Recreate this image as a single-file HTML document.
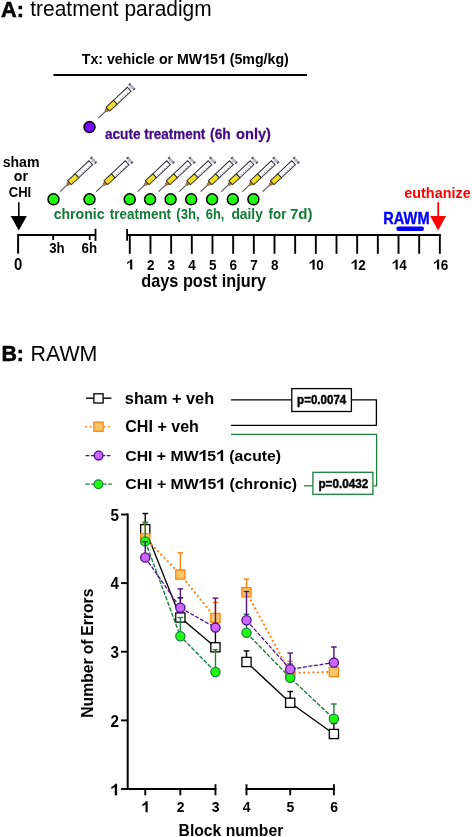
<!DOCTYPE html>
<html><head><meta charset="utf-8"><style>
html,body{margin:0;padding:0;background:#fff;}
body{width:472px;height:837px;overflow:hidden;}
svg{display:block;font-family:"Liberation Sans", sans-serif;will-change:transform;}
</style></head><body>
<svg width="472" height="837" viewBox="0 0 472 837">
<rect width="472" height="837" fill="#fff"/>
<text transform="translate(1.06,16.60) scale(1.0000,1.0)" font-size="21.76" font-weight="bold" fill="#000" stroke="#000" stroke-width="0.5">A:</text>
<text transform="translate(30.29,16.30) scale(1.0000,1.02)" font-size="20.92" font-weight="normal" fill="#000" >treatment paradigm</text>
<text transform="translate(81.76,64.30) scale(1.0000,1.03)" font-size="14.17" font-weight="bold" fill="#000"  xml:space="preserve">Tx: vehicle or MW<tspan dx="7.881">5</tspan><tspan dx="7.881"> (5mg/kg)</tspan></text><path transform="translate(202.26,64.30) scale(14.174,-14.599)" d="M0.282 0 L0.438 0 L0.438 0.716 L0.312 0.716 C0.286 0.652 0.200 0.575 0.058 0.518 L0.058 0.392 C0.146 0.424 0.228 0.472 0.282 0.528 Z" fill="#000"/><path transform="translate(218.03,64.30) scale(14.174,-14.599)" d="M0.282 0 L0.438 0 L0.438 0.716 L0.312 0.716 C0.286 0.652 0.200 0.575 0.058 0.518 L0.058 0.392 C0.146 0.424 0.228 0.472 0.282 0.528 Z" fill="#000"/>
<line x1="53.5" y1="75" x2="307" y2="75" stroke="#000" stroke-width="2"/>
<g transform="translate(98.4,118.1) rotate(-43.1)"><line x1="0" y1="0" x2="10.5" y2="0" stroke="#4a4a4a" stroke-width="1"/><path d="M10 -0.9 L13 -1.8 L13 1.8 L10 0.9 Z" fill="#b87838" stroke="#6a4a2a" stroke-width="0.6"/><rect x="13" y="-2.7" width="10.3" height="5.4" fill="#f3e22a" stroke="#26262e" stroke-width="0.95"/><rect x="23.3" y="-2.7" width="18.9" height="5.4" fill="#fff" stroke="#26262e" stroke-width="0.95"/><line x1="15.5" y1="0.6" x2="15.5" y2="2.2" stroke="#b8a020" stroke-width="0.7"/><line x1="18.5" y1="0.6" x2="18.5" y2="2.2" stroke="#b8a020" stroke-width="0.7"/><line x1="21.5" y1="0.6" x2="21.5" y2="2.2" stroke="#b8a020" stroke-width="0.7"/><line x1="26.3" y1="0.3" x2="26.3" y2="2.4" stroke="#80808e" stroke-width="0.75"/><line x1="29.3" y1="0.3" x2="29.3" y2="2.4" stroke="#80808e" stroke-width="0.75"/><line x1="32.3" y1="0.3" x2="32.3" y2="2.4" stroke="#80808e" stroke-width="0.75"/><line x1="35.3" y1="0.3" x2="35.3" y2="2.4" stroke="#80808e" stroke-width="0.75"/><line x1="38.3" y1="0.3" x2="38.3" y2="2.4" stroke="#80808e" stroke-width="0.75"/><rect x="42.7" y="-1.1" width="2" height="2.2" fill="#d4d4dc"/><rect x="44.6" y="-3.9" width="2.5" height="7.8" fill="#b4b4c0"/><rect x="44.6" y="-3.9" width="2.5" height="1.3" fill="#4a4a55"/><rect x="44.6" y="2.6" width="2.5" height="1.3" fill="#4a4a55"/></g>
<circle cx="89.5" cy="127.1" r="5.5" fill="#8000ff" stroke="#000" stroke-width="1.5"/>
<text transform="translate(104.93,139.00) scale(0.9812,1.02)" font-size="13.90" font-weight="bold" fill="#420a85" stroke="#420a85" stroke-width="0.25">acute</text>
<text transform="translate(144.17,139.00) scale(0.9659,1.02)" font-size="13.90" font-weight="bold" fill="#420a85" stroke="#420a85" stroke-width="0.25">treatment</text>
<text transform="translate(210.05,139.00) scale(0.9924,1.02)" font-size="13.90" font-weight="bold" fill="#420a85" stroke="#420a85" stroke-width="0.25">(6h</text>
<text transform="translate(236.06,139.00) scale(1.0501,1.02)" font-size="13.90" font-weight="bold" fill="#420a85" stroke="#420a85" stroke-width="0.25">only)</text>
<text transform="translate(2.63,166.60) scale(1.0000,1.03)" font-size="14.09" font-weight="bold" fill="#000" >sham</text>
<text transform="translate(13.77,181.00) scale(1.0000,1.0)" font-size="14.26" font-weight="bold" fill="#000" >or</text>
<text transform="translate(8.83,196.60) scale(1.0000,1.14)" font-size="13.02" font-weight="bold" fill="#000" >CHI</text>
<line x1="18.8" y1="202.3" x2="18.8" y2="217" stroke="#000" stroke-width="1.6"/>
<path d="M10.7 216 L26.9 216 L18.8 230.5 Z" fill="#000"/>
<g transform="translate(60.0,191.6) rotate(-43.1)"><line x1="0" y1="0" x2="10.5" y2="0" stroke="#4a4a4a" stroke-width="1"/><path d="M10 -0.9 L13 -1.8 L13 1.8 L10 0.9 Z" fill="#b87838" stroke="#6a4a2a" stroke-width="0.6"/><rect x="13" y="-2.7" width="10.3" height="5.4" fill="#f3e22a" stroke="#26262e" stroke-width="0.95"/><rect x="23.3" y="-2.7" width="18.9" height="5.4" fill="#fff" stroke="#26262e" stroke-width="0.95"/><line x1="15.5" y1="0.6" x2="15.5" y2="2.2" stroke="#b8a020" stroke-width="0.7"/><line x1="18.5" y1="0.6" x2="18.5" y2="2.2" stroke="#b8a020" stroke-width="0.7"/><line x1="21.5" y1="0.6" x2="21.5" y2="2.2" stroke="#b8a020" stroke-width="0.7"/><line x1="26.3" y1="0.3" x2="26.3" y2="2.4" stroke="#80808e" stroke-width="0.75"/><line x1="29.3" y1="0.3" x2="29.3" y2="2.4" stroke="#80808e" stroke-width="0.75"/><line x1="32.3" y1="0.3" x2="32.3" y2="2.4" stroke="#80808e" stroke-width="0.75"/><line x1="35.3" y1="0.3" x2="35.3" y2="2.4" stroke="#80808e" stroke-width="0.75"/><line x1="38.3" y1="0.3" x2="38.3" y2="2.4" stroke="#80808e" stroke-width="0.75"/><rect x="42.7" y="-1.1" width="2" height="2.2" fill="#d4d4dc"/><rect x="44.6" y="-3.9" width="2.5" height="7.8" fill="#b4b4c0"/><rect x="44.6" y="-3.9" width="2.5" height="1.3" fill="#4a4a55"/><rect x="44.6" y="2.6" width="2.5" height="1.3" fill="#4a4a55"/></g>
<g transform="translate(96.3,191.6) rotate(-43.1)"><line x1="0" y1="0" x2="10.5" y2="0" stroke="#4a4a4a" stroke-width="1"/><path d="M10 -0.9 L13 -1.8 L13 1.8 L10 0.9 Z" fill="#b87838" stroke="#6a4a2a" stroke-width="0.6"/><rect x="13" y="-2.7" width="10.3" height="5.4" fill="#f3e22a" stroke="#26262e" stroke-width="0.95"/><rect x="23.3" y="-2.7" width="18.9" height="5.4" fill="#fff" stroke="#26262e" stroke-width="0.95"/><line x1="15.5" y1="0.6" x2="15.5" y2="2.2" stroke="#b8a020" stroke-width="0.7"/><line x1="18.5" y1="0.6" x2="18.5" y2="2.2" stroke="#b8a020" stroke-width="0.7"/><line x1="21.5" y1="0.6" x2="21.5" y2="2.2" stroke="#b8a020" stroke-width="0.7"/><line x1="26.3" y1="0.3" x2="26.3" y2="2.4" stroke="#80808e" stroke-width="0.75"/><line x1="29.3" y1="0.3" x2="29.3" y2="2.4" stroke="#80808e" stroke-width="0.75"/><line x1="32.3" y1="0.3" x2="32.3" y2="2.4" stroke="#80808e" stroke-width="0.75"/><line x1="35.3" y1="0.3" x2="35.3" y2="2.4" stroke="#80808e" stroke-width="0.75"/><line x1="38.3" y1="0.3" x2="38.3" y2="2.4" stroke="#80808e" stroke-width="0.75"/><rect x="42.7" y="-1.1" width="2" height="2.2" fill="#d4d4dc"/><rect x="44.6" y="-3.9" width="2.5" height="7.8" fill="#b4b4c0"/><rect x="44.6" y="-3.9" width="2.5" height="1.3" fill="#4a4a55"/><rect x="44.6" y="2.6" width="2.5" height="1.3" fill="#4a4a55"/></g>
<g transform="translate(137.7,191.6) rotate(-43.1)"><line x1="0" y1="0" x2="10.5" y2="0" stroke="#4a4a4a" stroke-width="1"/><path d="M10 -0.9 L13 -1.8 L13 1.8 L10 0.9 Z" fill="#b87838" stroke="#6a4a2a" stroke-width="0.6"/><rect x="13" y="-2.7" width="10.3" height="5.4" fill="#f3e22a" stroke="#26262e" stroke-width="0.95"/><rect x="23.3" y="-2.7" width="18.9" height="5.4" fill="#fff" stroke="#26262e" stroke-width="0.95"/><line x1="15.5" y1="0.6" x2="15.5" y2="2.2" stroke="#b8a020" stroke-width="0.7"/><line x1="18.5" y1="0.6" x2="18.5" y2="2.2" stroke="#b8a020" stroke-width="0.7"/><line x1="21.5" y1="0.6" x2="21.5" y2="2.2" stroke="#b8a020" stroke-width="0.7"/><line x1="26.3" y1="0.3" x2="26.3" y2="2.4" stroke="#80808e" stroke-width="0.75"/><line x1="29.3" y1="0.3" x2="29.3" y2="2.4" stroke="#80808e" stroke-width="0.75"/><line x1="32.3" y1="0.3" x2="32.3" y2="2.4" stroke="#80808e" stroke-width="0.75"/><line x1="35.3" y1="0.3" x2="35.3" y2="2.4" stroke="#80808e" stroke-width="0.75"/><line x1="38.3" y1="0.3" x2="38.3" y2="2.4" stroke="#80808e" stroke-width="0.75"/><rect x="42.7" y="-1.1" width="2" height="2.2" fill="#d4d4dc"/><rect x="44.6" y="-3.9" width="2.5" height="7.8" fill="#b4b4c0"/><rect x="44.6" y="-3.9" width="2.5" height="1.3" fill="#4a4a55"/><rect x="44.6" y="2.6" width="2.5" height="1.3" fill="#4a4a55"/></g>
<g transform="translate(158.6,191.6) rotate(-43.1)"><line x1="0" y1="0" x2="10.5" y2="0" stroke="#4a4a4a" stroke-width="1"/><path d="M10 -0.9 L13 -1.8 L13 1.8 L10 0.9 Z" fill="#b87838" stroke="#6a4a2a" stroke-width="0.6"/><rect x="13" y="-2.7" width="10.3" height="5.4" fill="#f3e22a" stroke="#26262e" stroke-width="0.95"/><rect x="23.3" y="-2.7" width="18.9" height="5.4" fill="#fff" stroke="#26262e" stroke-width="0.95"/><line x1="15.5" y1="0.6" x2="15.5" y2="2.2" stroke="#b8a020" stroke-width="0.7"/><line x1="18.5" y1="0.6" x2="18.5" y2="2.2" stroke="#b8a020" stroke-width="0.7"/><line x1="21.5" y1="0.6" x2="21.5" y2="2.2" stroke="#b8a020" stroke-width="0.7"/><line x1="26.3" y1="0.3" x2="26.3" y2="2.4" stroke="#80808e" stroke-width="0.75"/><line x1="29.3" y1="0.3" x2="29.3" y2="2.4" stroke="#80808e" stroke-width="0.75"/><line x1="32.3" y1="0.3" x2="32.3" y2="2.4" stroke="#80808e" stroke-width="0.75"/><line x1="35.3" y1="0.3" x2="35.3" y2="2.4" stroke="#80808e" stroke-width="0.75"/><line x1="38.3" y1="0.3" x2="38.3" y2="2.4" stroke="#80808e" stroke-width="0.75"/><rect x="42.7" y="-1.1" width="2" height="2.2" fill="#d4d4dc"/><rect x="44.6" y="-3.9" width="2.5" height="7.8" fill="#b4b4c0"/><rect x="44.6" y="-3.9" width="2.5" height="1.3" fill="#4a4a55"/><rect x="44.6" y="2.6" width="2.5" height="1.3" fill="#4a4a55"/></g>
<g transform="translate(179.2,191.6) rotate(-43.1)"><line x1="0" y1="0" x2="10.5" y2="0" stroke="#4a4a4a" stroke-width="1"/><path d="M10 -0.9 L13 -1.8 L13 1.8 L10 0.9 Z" fill="#b87838" stroke="#6a4a2a" stroke-width="0.6"/><rect x="13" y="-2.7" width="10.3" height="5.4" fill="#f3e22a" stroke="#26262e" stroke-width="0.95"/><rect x="23.3" y="-2.7" width="18.9" height="5.4" fill="#fff" stroke="#26262e" stroke-width="0.95"/><line x1="15.5" y1="0.6" x2="15.5" y2="2.2" stroke="#b8a020" stroke-width="0.7"/><line x1="18.5" y1="0.6" x2="18.5" y2="2.2" stroke="#b8a020" stroke-width="0.7"/><line x1="21.5" y1="0.6" x2="21.5" y2="2.2" stroke="#b8a020" stroke-width="0.7"/><line x1="26.3" y1="0.3" x2="26.3" y2="2.4" stroke="#80808e" stroke-width="0.75"/><line x1="29.3" y1="0.3" x2="29.3" y2="2.4" stroke="#80808e" stroke-width="0.75"/><line x1="32.3" y1="0.3" x2="32.3" y2="2.4" stroke="#80808e" stroke-width="0.75"/><line x1="35.3" y1="0.3" x2="35.3" y2="2.4" stroke="#80808e" stroke-width="0.75"/><line x1="38.3" y1="0.3" x2="38.3" y2="2.4" stroke="#80808e" stroke-width="0.75"/><rect x="42.7" y="-1.1" width="2" height="2.2" fill="#d4d4dc"/><rect x="44.6" y="-3.9" width="2.5" height="7.8" fill="#b4b4c0"/><rect x="44.6" y="-3.9" width="2.5" height="1.3" fill="#4a4a55"/><rect x="44.6" y="2.6" width="2.5" height="1.3" fill="#4a4a55"/></g>
<g transform="translate(200.6,191.6) rotate(-43.1)"><line x1="0" y1="0" x2="10.5" y2="0" stroke="#4a4a4a" stroke-width="1"/><path d="M10 -0.9 L13 -1.8 L13 1.8 L10 0.9 Z" fill="#b87838" stroke="#6a4a2a" stroke-width="0.6"/><rect x="13" y="-2.7" width="10.3" height="5.4" fill="#f3e22a" stroke="#26262e" stroke-width="0.95"/><rect x="23.3" y="-2.7" width="18.9" height="5.4" fill="#fff" stroke="#26262e" stroke-width="0.95"/><line x1="15.5" y1="0.6" x2="15.5" y2="2.2" stroke="#b8a020" stroke-width="0.7"/><line x1="18.5" y1="0.6" x2="18.5" y2="2.2" stroke="#b8a020" stroke-width="0.7"/><line x1="21.5" y1="0.6" x2="21.5" y2="2.2" stroke="#b8a020" stroke-width="0.7"/><line x1="26.3" y1="0.3" x2="26.3" y2="2.4" stroke="#80808e" stroke-width="0.75"/><line x1="29.3" y1="0.3" x2="29.3" y2="2.4" stroke="#80808e" stroke-width="0.75"/><line x1="32.3" y1="0.3" x2="32.3" y2="2.4" stroke="#80808e" stroke-width="0.75"/><line x1="35.3" y1="0.3" x2="35.3" y2="2.4" stroke="#80808e" stroke-width="0.75"/><line x1="38.3" y1="0.3" x2="38.3" y2="2.4" stroke="#80808e" stroke-width="0.75"/><rect x="42.7" y="-1.1" width="2" height="2.2" fill="#d4d4dc"/><rect x="44.6" y="-3.9" width="2.5" height="7.8" fill="#b4b4c0"/><rect x="44.6" y="-3.9" width="2.5" height="1.3" fill="#4a4a55"/><rect x="44.6" y="2.6" width="2.5" height="1.3" fill="#4a4a55"/></g>
<g transform="translate(221.2,191.6) rotate(-43.1)"><line x1="0" y1="0" x2="10.5" y2="0" stroke="#4a4a4a" stroke-width="1"/><path d="M10 -0.9 L13 -1.8 L13 1.8 L10 0.9 Z" fill="#b87838" stroke="#6a4a2a" stroke-width="0.6"/><rect x="13" y="-2.7" width="10.3" height="5.4" fill="#f3e22a" stroke="#26262e" stroke-width="0.95"/><rect x="23.3" y="-2.7" width="18.9" height="5.4" fill="#fff" stroke="#26262e" stroke-width="0.95"/><line x1="15.5" y1="0.6" x2="15.5" y2="2.2" stroke="#b8a020" stroke-width="0.7"/><line x1="18.5" y1="0.6" x2="18.5" y2="2.2" stroke="#b8a020" stroke-width="0.7"/><line x1="21.5" y1="0.6" x2="21.5" y2="2.2" stroke="#b8a020" stroke-width="0.7"/><line x1="26.3" y1="0.3" x2="26.3" y2="2.4" stroke="#80808e" stroke-width="0.75"/><line x1="29.3" y1="0.3" x2="29.3" y2="2.4" stroke="#80808e" stroke-width="0.75"/><line x1="32.3" y1="0.3" x2="32.3" y2="2.4" stroke="#80808e" stroke-width="0.75"/><line x1="35.3" y1="0.3" x2="35.3" y2="2.4" stroke="#80808e" stroke-width="0.75"/><line x1="38.3" y1="0.3" x2="38.3" y2="2.4" stroke="#80808e" stroke-width="0.75"/><rect x="42.7" y="-1.1" width="2" height="2.2" fill="#d4d4dc"/><rect x="44.6" y="-3.9" width="2.5" height="7.8" fill="#b4b4c0"/><rect x="44.6" y="-3.9" width="2.5" height="1.3" fill="#4a4a55"/><rect x="44.6" y="2.6" width="2.5" height="1.3" fill="#4a4a55"/></g>
<g transform="translate(242.4,191.6) rotate(-43.1)"><line x1="0" y1="0" x2="10.5" y2="0" stroke="#4a4a4a" stroke-width="1"/><path d="M10 -0.9 L13 -1.8 L13 1.8 L10 0.9 Z" fill="#b87838" stroke="#6a4a2a" stroke-width="0.6"/><rect x="13" y="-2.7" width="10.3" height="5.4" fill="#f3e22a" stroke="#26262e" stroke-width="0.95"/><rect x="23.3" y="-2.7" width="18.9" height="5.4" fill="#fff" stroke="#26262e" stroke-width="0.95"/><line x1="15.5" y1="0.6" x2="15.5" y2="2.2" stroke="#b8a020" stroke-width="0.7"/><line x1="18.5" y1="0.6" x2="18.5" y2="2.2" stroke="#b8a020" stroke-width="0.7"/><line x1="21.5" y1="0.6" x2="21.5" y2="2.2" stroke="#b8a020" stroke-width="0.7"/><line x1="26.3" y1="0.3" x2="26.3" y2="2.4" stroke="#80808e" stroke-width="0.75"/><line x1="29.3" y1="0.3" x2="29.3" y2="2.4" stroke="#80808e" stroke-width="0.75"/><line x1="32.3" y1="0.3" x2="32.3" y2="2.4" stroke="#80808e" stroke-width="0.75"/><line x1="35.3" y1="0.3" x2="35.3" y2="2.4" stroke="#80808e" stroke-width="0.75"/><line x1="38.3" y1="0.3" x2="38.3" y2="2.4" stroke="#80808e" stroke-width="0.75"/><rect x="42.7" y="-1.1" width="2" height="2.2" fill="#d4d4dc"/><rect x="44.6" y="-3.9" width="2.5" height="7.8" fill="#b4b4c0"/><rect x="44.6" y="-3.9" width="2.5" height="1.3" fill="#4a4a55"/><rect x="44.6" y="2.6" width="2.5" height="1.3" fill="#4a4a55"/></g>
<g transform="translate(262.7,191.6) rotate(-43.1)"><line x1="0" y1="0" x2="10.5" y2="0" stroke="#4a4a4a" stroke-width="1"/><path d="M10 -0.9 L13 -1.8 L13 1.8 L10 0.9 Z" fill="#b87838" stroke="#6a4a2a" stroke-width="0.6"/><rect x="13" y="-2.7" width="10.3" height="5.4" fill="#f3e22a" stroke="#26262e" stroke-width="0.95"/><rect x="23.3" y="-2.7" width="18.9" height="5.4" fill="#fff" stroke="#26262e" stroke-width="0.95"/><line x1="15.5" y1="0.6" x2="15.5" y2="2.2" stroke="#b8a020" stroke-width="0.7"/><line x1="18.5" y1="0.6" x2="18.5" y2="2.2" stroke="#b8a020" stroke-width="0.7"/><line x1="21.5" y1="0.6" x2="21.5" y2="2.2" stroke="#b8a020" stroke-width="0.7"/><line x1="26.3" y1="0.3" x2="26.3" y2="2.4" stroke="#80808e" stroke-width="0.75"/><line x1="29.3" y1="0.3" x2="29.3" y2="2.4" stroke="#80808e" stroke-width="0.75"/><line x1="32.3" y1="0.3" x2="32.3" y2="2.4" stroke="#80808e" stroke-width="0.75"/><line x1="35.3" y1="0.3" x2="35.3" y2="2.4" stroke="#80808e" stroke-width="0.75"/><line x1="38.3" y1="0.3" x2="38.3" y2="2.4" stroke="#80808e" stroke-width="0.75"/><rect x="42.7" y="-1.1" width="2" height="2.2" fill="#d4d4dc"/><rect x="44.6" y="-3.9" width="2.5" height="7.8" fill="#b4b4c0"/><rect x="44.6" y="-3.9" width="2.5" height="1.3" fill="#4a4a55"/><rect x="44.6" y="2.6" width="2.5" height="1.3" fill="#4a4a55"/></g>
<circle cx="53.5" cy="199.3" r="5.5" fill="#1eff0e" stroke="#000" stroke-width="1.5"/>
<circle cx="89.5" cy="199.3" r="5.5" fill="#1eff0e" stroke="#000" stroke-width="1.5"/>
<circle cx="129.7" cy="199.3" r="5.5" fill="#1eff0e" stroke="#000" stroke-width="1.5"/>
<circle cx="150.1" cy="199.3" r="5.5" fill="#1eff0e" stroke="#000" stroke-width="1.5"/>
<circle cx="170.6" cy="199.3" r="5.5" fill="#1eff0e" stroke="#000" stroke-width="1.5"/>
<circle cx="191.2" cy="199.3" r="5.5" fill="#1eff0e" stroke="#000" stroke-width="1.5"/>
<circle cx="212.1" cy="199.3" r="5.5" fill="#1eff0e" stroke="#000" stroke-width="1.5"/>
<circle cx="232.8" cy="199.3" r="5.5" fill="#1eff0e" stroke="#000" stroke-width="1.5"/>
<circle cx="253.4" cy="199.3" r="5.5" fill="#1eff0e" stroke="#000" stroke-width="1.5"/>
<text transform="translate(53.68,218.90) scale(0.9993,1.04)" font-size="14.10" font-weight="bold" fill="#127a36" >chronic</text>
<text transform="translate(109.87,218.90) scale(0.9537,1.04)" font-size="14.10" font-weight="bold" fill="#127a36" >treatment</text>
<text transform="translate(176.37,218.90) scale(0.9330,1.04)" font-size="14.10" font-weight="bold" fill="#127a36" >(3h,</text>
<text transform="translate(205.82,218.90) scale(0.9094,1.04)" font-size="14.10" font-weight="bold" fill="#127a36" >6h,</text>
<text transform="translate(231.45,218.90) scale(0.9772,1.04)" font-size="14.10" font-weight="bold" fill="#127a36" >daily</text>
<text transform="translate(268.57,218.90) scale(0.9447,1.04)" font-size="14.10" font-weight="bold" fill="#127a36" >for</text>
<text transform="translate(289.90,218.90) scale(1.0711,1.04)" font-size="14.10" font-weight="bold" fill="#127a36" >7d)</text>
<line x1="18" y1="234.9" x2="96" y2="234.9" stroke="#000" stroke-width="2"/>
<line x1="18.1" y1="234" x2="18.1" y2="253.6" stroke="#000" stroke-width="2"/>
<line x1="53.2" y1="234" x2="53.2" y2="240" stroke="#000" stroke-width="1.8"/>
<line x1="89.7" y1="234" x2="89.7" y2="240" stroke="#000" stroke-width="1.8"/>
<line x1="95.5" y1="228.8" x2="95.5" y2="240.9" stroke="#000" stroke-width="1.8"/>
<text transform="translate(13.95,269.80) scale(1.0000,1.05)" font-size="14.90" font-weight="bold" fill="#000" >0</text>
<text transform="translate(49.23,252.70) scale(1.0000,1.1)" font-size="13.26" font-weight="bold" fill="#000" >3h</text>
<text transform="translate(81.50,252.70) scale(1.0000,1.1)" font-size="13.29" font-weight="bold" fill="#000" >6h</text>
<line x1="127.1" y1="228.9" x2="127.1" y2="240.8" stroke="#000" stroke-width="1.8"/>
<line x1="127" y1="235.1" x2="440.75" y2="235.1" stroke="#000" stroke-width="2"/>
<line x1="129.80" y1="234.5" x2="129.80" y2="253.8" stroke="#000" stroke-width="1.9"/>
<line x1="150.47" y1="234.5" x2="150.47" y2="253.8" stroke="#000" stroke-width="1.9"/>
<line x1="171.14" y1="234.5" x2="171.14" y2="253.8" stroke="#000" stroke-width="1.9"/>
<line x1="191.81" y1="234.5" x2="191.81" y2="253.8" stroke="#000" stroke-width="1.9"/>
<line x1="212.48" y1="234.5" x2="212.48" y2="253.8" stroke="#000" stroke-width="1.9"/>
<line x1="233.15" y1="234.5" x2="233.15" y2="253.8" stroke="#000" stroke-width="1.9"/>
<line x1="253.82" y1="234.5" x2="253.82" y2="253.8" stroke="#000" stroke-width="1.9"/>
<line x1="274.49" y1="234.5" x2="274.49" y2="253.8" stroke="#000" stroke-width="1.9"/>
<line x1="295.16" y1="234.5" x2="295.16" y2="253.8" stroke="#000" stroke-width="1.9"/>
<line x1="315.83" y1="234.5" x2="315.83" y2="253.8" stroke="#000" stroke-width="1.9"/>
<line x1="336.50" y1="234.5" x2="336.50" y2="253.8" stroke="#000" stroke-width="1.9"/>
<line x1="357.17" y1="234.5" x2="357.17" y2="253.8" stroke="#000" stroke-width="1.9"/>
<line x1="377.84" y1="234.5" x2="377.84" y2="253.8" stroke="#000" stroke-width="1.9"/>
<line x1="398.51" y1="234.5" x2="398.51" y2="253.8" stroke="#000" stroke-width="1.9"/>
<line x1="419.18" y1="234.5" x2="419.18" y2="253.8" stroke="#000" stroke-width="1.9"/>
<line x1="439.85" y1="234.5" x2="439.85" y2="253.8" stroke="#000" stroke-width="1.9"/>
<path transform="translate(126.35,269.60) scale(13.5,-14.175)" d="M0.282 0 L0.438 0 L0.438 0.716 L0.312 0.716 C0.286 0.652 0.200 0.575 0.058 0.518 L0.058 0.392 C0.146 0.424 0.228 0.472 0.282 0.528 Z" fill="#000"/>
<text transform="translate(146.92,269.60) scale(1,1.05)" font-size="13.5" font-weight="bold" fill="#000">2</text>
<text transform="translate(167.59,269.60) scale(1,1.05)" font-size="13.5" font-weight="bold" fill="#000">3</text>
<text transform="translate(188.26,269.60) scale(1,1.05)" font-size="13.5" font-weight="bold" fill="#000">4</text>
<text transform="translate(208.93,269.60) scale(1,1.05)" font-size="13.5" font-weight="bold" fill="#000">5</text>
<text transform="translate(229.60,269.60) scale(1,1.05)" font-size="13.5" font-weight="bold" fill="#000">6</text>
<text transform="translate(250.27,269.60) scale(1,1.05)" font-size="13.5" font-weight="bold" fill="#000">7</text>
<text transform="translate(270.94,269.60) scale(1,1.05)" font-size="13.5" font-weight="bold" fill="#000">8</text>
<path transform="translate(308.72,269.60) scale(13.5,-14.175)" d="M0.282 0 L0.438 0 L0.438 0.716 L0.312 0.716 C0.286 0.652 0.200 0.575 0.058 0.518 L0.058 0.392 C0.146 0.424 0.228 0.472 0.282 0.528 Z" fill="#000"/>
<text transform="translate(316.23,269.60) scale(1,1.05)" font-size="13.5" font-weight="bold" fill="#000">0</text>
<path transform="translate(350.76,269.60) scale(13.5,-14.175)" d="M0.282 0 L0.438 0 L0.438 0.716 L0.312 0.716 C0.286 0.652 0.200 0.575 0.058 0.518 L0.058 0.392 C0.146 0.424 0.228 0.472 0.282 0.528 Z" fill="#000"/>
<text transform="translate(358.27,269.60) scale(1,1.05)" font-size="13.5" font-weight="bold" fill="#000">2</text>
<path transform="translate(391.80,269.60) scale(13.5,-14.175)" d="M0.282 0 L0.438 0 L0.438 0.716 L0.312 0.716 C0.286 0.652 0.200 0.575 0.058 0.518 L0.058 0.392 C0.146 0.424 0.228 0.472 0.282 0.528 Z" fill="#000"/>
<text transform="translate(399.31,269.60) scale(1,1.05)" font-size="13.5" font-weight="bold" fill="#000">4</text>
<path transform="translate(433.24,269.60) scale(13.5,-14.175)" d="M0.282 0 L0.438 0 L0.438 0.716 L0.312 0.716 C0.286 0.652 0.200 0.575 0.058 0.518 L0.058 0.392 C0.146 0.424 0.228 0.472 0.282 0.528 Z" fill="#000"/>
<text transform="translate(440.75,269.60) scale(1,1.05)" font-size="13.5" font-weight="bold" fill="#000">6</text>
<text transform="translate(141.35,286.60) scale(1.0000,1.1)" font-size="16.27" font-weight="bold" fill="#000" >days post injury</text>
<text transform="translate(383.32,223.60) scale(1.0000,1.12)" font-size="14.62" font-weight="bold" fill="#0000ff" stroke="#0000ff" stroke-width="0.3">RAWM</text>
<line x1="398.5" y1="228.7" x2="421.8" y2="228.7" stroke="#0000ff" stroke-width="4.4" stroke-linecap="round"/>
<text transform="translate(404.17,198.40) scale(1.0000,0.97)" font-size="14.44" font-weight="bold" fill="#ff0000" >euthanize</text>
<line x1="438.2" y1="202.2" x2="438.2" y2="217" stroke="#ff0000" stroke-width="1.8"/>
<path d="M430.2 216.1 L446 216.1 L438.1 230.5 Z" fill="#ff0000"/>
<text transform="translate(1.42,360.70) scale(1.0000,1.0)" font-size="21.39" font-weight="bold" fill="#000" stroke="#000" stroke-width="0.5">B:</text>
<text transform="translate(30.49,360.80) scale(1.0000,1.03)" font-size="21.37" font-weight="normal" fill="#000" >RAWM</text>
<line x1="86" y1="398.2" x2="111.4" y2="398.2" stroke="#000" stroke-width="1.4"/>
<rect x="93.9" y="393.8" width="9.2" height="9.2" fill="#fff" stroke="#000" stroke-width="1.3"/>
<line x1="86" y1="426.7" x2="111.4" y2="426.7" stroke="#ff8010" stroke-width="1.8" stroke-dasharray="0 4.6" stroke-linecap="round"/>
<rect x="93.9" y="422.1" width="9.2" height="9.2" fill="#f5c865" stroke="#ff8010" stroke-width="1.3"/>
<line x1="85.5" y1="455.6" x2="111.8" y2="455.6" stroke="#4b0f8c" stroke-width="1.4" stroke-dasharray="3.8 1.5"/>
<circle cx="98.6" cy="455.6" r="4.4" fill="#cc66ff" stroke="#4b0f8c" stroke-width="1.3"/>
<line x1="85.4" y1="484.1" x2="111.8" y2="484.1" stroke="#1e8040" stroke-width="1.4" stroke-dasharray="4.2 1.5"/>
<circle cx="98.4" cy="484.2" r="4.4" fill="#1eff0e" stroke="#1e8040" stroke-width="1.3"/>
<text transform="translate(124.81,403.90) scale(1.0000,0.97)" font-size="16.33" font-weight="bold" fill="#000" >sham + veh</text>
<text transform="translate(125.26,432.00) scale(1.0000,0.98)" font-size="16.08" font-weight="bold" fill="#000" >CHI + veh</text>
<text transform="translate(125.27,461.00) scale(1.0000,0.98)" font-size="15.81" font-weight="bold" fill="#000"  xml:space="preserve">CHI + MW<tspan dx="8.789">5</tspan><tspan dx="8.789"> (acute)</tspan></text><path transform="translate(198.59,461.00) scale(15.807,-15.491)" d="M0.282 0 L0.438 0 L0.438 0.716 L0.312 0.716 C0.286 0.652 0.200 0.575 0.058 0.518 L0.058 0.392 C0.146 0.424 0.228 0.472 0.282 0.528 Z" fill="#000"/><path transform="translate(216.18,461.00) scale(15.807,-15.491)" d="M0.282 0 L0.438 0 L0.438 0.716 L0.312 0.716 C0.286 0.652 0.200 0.575 0.058 0.518 L0.058 0.392 C0.146 0.424 0.228 0.472 0.282 0.528 Z" fill="#000"/>
<text transform="translate(125.27,489.30) scale(1.0000,0.98)" font-size="15.82" font-weight="bold" fill="#000"  xml:space="preserve">CHI + MW<tspan dx="8.794">5</tspan><tspan dx="8.794"> (chronic)</tspan></text><path transform="translate(198.64,489.30) scale(15.817,-15.500)" d="M0.282 0 L0.438 0 L0.438 0.716 L0.312 0.716 C0.286 0.652 0.200 0.575 0.058 0.518 L0.058 0.392 C0.146 0.424 0.228 0.472 0.282 0.528 Z" fill="#000"/><path transform="translate(216.23,489.30) scale(15.817,-15.500)" d="M0.282 0 L0.438 0 L0.438 0.716 L0.312 0.716 C0.286 0.652 0.200 0.575 0.058 0.518 L0.058 0.392 C0.146 0.424 0.228 0.472 0.282 0.528 Z" fill="#000"/>
<polyline points="230.9,399.9 291.5,399.9" stroke="#000" stroke-width="1.3" fill="none"/>
<polyline points="351.6,399.9 376.4,399.9 376.4,425.3 230.9,425.3" stroke="#000" stroke-width="1.3" fill="none"/>
<rect x="291.8" y="388.6" width="59.6" height="22.9" fill="#fff" stroke="#000" stroke-width="1.3"/>
<text transform="translate(297.11,403.60) scale(1.0000,1.12)" font-size="11.56" font-weight="bold" fill="#000" stroke="#000" stroke-width="0.4">p=0.0074</text>
<polyline points="230.9,434.3 376.6,434.3 376.6,485.8 373.4,485.8" stroke="#1e8040" stroke-width="1.3" fill="none"/>
<line x1="304" y1="485.8" x2="312.4" y2="485.8" stroke="#1e8040" stroke-width="1.3"/>
<rect x="312.9" y="472.3" width="60" height="22" fill="#fff" stroke="#1e8040" stroke-width="1.3"/>
<text transform="translate(318.40,488.10) scale(1.0000,1.12)" font-size="11.74" font-weight="bold" fill="#000" stroke="#000" stroke-width="0.4">p=0.0432</text>
<line x1="127.7" y1="513.6" x2="127.7" y2="790" stroke="#000" stroke-width="2"/>
<line x1="121" y1="789.00" x2="127.7" y2="789.00" stroke="#000" stroke-width="1.9"/>
<path transform="translate(110.45,795.30) scale(15.2,-16.112)" d="M0.282 0 L0.438 0 L0.438 0.716 L0.312 0.716 C0.286 0.652 0.200 0.575 0.058 0.518 L0.058 0.392 C0.146 0.424 0.228 0.472 0.282 0.528 Z" fill="#000"/>
<line x1="121" y1="720.38" x2="127.7" y2="720.38" stroke="#000" stroke-width="1.9"/>
<text transform="translate(110.45,726.67) scale(1,1.06)" font-size="15.2" font-weight="bold" fill="#000">2</text>
<line x1="121" y1="651.75" x2="127.7" y2="651.75" stroke="#000" stroke-width="1.9"/>
<text transform="translate(110.45,658.05) scale(1,1.06)" font-size="15.2" font-weight="bold" fill="#000">3</text>
<line x1="121" y1="583.12" x2="127.7" y2="583.12" stroke="#000" stroke-width="1.9"/>
<text transform="translate(110.45,589.42) scale(1,1.06)" font-size="15.2" font-weight="bold" fill="#000">4</text>
<line x1="121" y1="514.50" x2="127.7" y2="514.50" stroke="#000" stroke-width="1.9"/>
<text transform="translate(110.45,520.80) scale(1,1.06)" font-size="15.2" font-weight="bold" fill="#000">5</text>
<line x1="126.7" y1="789" x2="216.35" y2="789" stroke="#000" stroke-width="2"/>
<line x1="245.6" y1="789" x2="334.79999999999995" y2="789" stroke="#000" stroke-width="2"/>
<line x1="145.25" y1="789" x2="145.25" y2="795.3" stroke="#000" stroke-width="1.9"/>
<line x1="180.35" y1="789" x2="180.35" y2="795.3" stroke="#000" stroke-width="1.9"/>
<line x1="290.20" y1="789" x2="290.20" y2="795.3" stroke="#000" stroke-width="1.9"/>
<line x1="215.45" y1="784.2" x2="215.45" y2="795.3" stroke="#000" stroke-width="1.9"/>
<line x1="246.50" y1="784.2" x2="246.50" y2="795.3" stroke="#000" stroke-width="1.9"/>
<line x1="333.90" y1="784.2" x2="333.90" y2="795.3" stroke="#000" stroke-width="1.9"/>
<path transform="translate(141.56,812.20) scale(14,-15.120)" d="M0.282 0 L0.438 0 L0.438 0.716 L0.312 0.716 C0.286 0.652 0.200 0.575 0.058 0.518 L0.058 0.392 C0.146 0.424 0.228 0.472 0.282 0.528 Z" fill="#000"/>
<text transform="translate(176.66,812.20) scale(1,1.08)" font-size="14" font-weight="bold" fill="#000">2</text>
<text transform="translate(211.76,812.20) scale(1,1.08)" font-size="14" font-weight="bold" fill="#000">3</text>
<text transform="translate(242.81,812.20) scale(1,1.08)" font-size="14" font-weight="bold" fill="#000">4</text>
<text transform="translate(286.51,812.20) scale(1,1.08)" font-size="14" font-weight="bold" fill="#000">5</text>
<text transform="translate(330.21,812.20) scale(1,1.08)" font-size="14" font-weight="bold" fill="#000">6</text>
<text transform="translate(92.8,717.85) rotate(-90) scale(1.0014,1.0)" font-size="15.75" font-weight="bold">Number</text>
<text transform="translate(92.8,654.17) rotate(-90) scale(0.9860,1.0)" font-size="15.75" font-weight="bold">of</text>
<text transform="translate(92.8,635.64) rotate(-90) scale(0.9965,1.0)" font-size="15.75" font-weight="bold">Errors</text>
<text transform="translate(178.56,835.70) scale(1.0000,1.04)" font-size="15.71" font-weight="bold" fill="#000" >Block number</text>
<polyline points="145.25,529.2 180.35,617.5 215.45,647.3" fill="none" stroke="#000" stroke-width="1.3" /><polyline points="246.50,662 290.20,702.8 333.90,734" fill="none" stroke="#000" stroke-width="1.3" /><line x1="145.25" y1="529.2" x2="145.25" y2="513.5" stroke="#000" stroke-width="1.4"/><line x1="142.45" y1="513.5" x2="148.05" y2="513.5" stroke="#000" stroke-width="1.4"/><line x1="180.35" y1="617.5" x2="180.35" y2="597.8" stroke="#000" stroke-width="1.4"/><line x1="177.55" y1="597.8" x2="183.15" y2="597.8" stroke="#000" stroke-width="1.4"/><line x1="215.45" y1="647.3" x2="215.45" y2="630.5" stroke="#000" stroke-width="1.4"/><line x1="212.65" y1="630.5" x2="218.25" y2="630.5" stroke="#000" stroke-width="1.4"/><line x1="246.50" y1="662" x2="246.50" y2="650.9" stroke="#000" stroke-width="1.4"/><line x1="243.70" y1="650.9" x2="249.30" y2="650.9" stroke="#000" stroke-width="1.4"/><line x1="290.20" y1="702.8" x2="290.20" y2="691.5" stroke="#000" stroke-width="1.4"/><line x1="287.40" y1="691.5" x2="293.00" y2="691.5" stroke="#000" stroke-width="1.4"/><line x1="333.90" y1="734" x2="333.90" y2="723.5" stroke="#000" stroke-width="1.4"/><line x1="331.10" y1="723.5" x2="336.70" y2="723.5" stroke="#000" stroke-width="1.4"/><rect x="140.65" y="524.60" width="9.2" height="9.2" fill="#fff" stroke="#000" stroke-width="1.3"/><rect x="175.75" y="612.90" width="9.2" height="9.2" fill="#fff" stroke="#000" stroke-width="1.3"/><rect x="210.85" y="642.70" width="9.2" height="9.2" fill="#fff" stroke="#000" stroke-width="1.3"/><rect x="241.90" y="657.40" width="9.2" height="9.2" fill="#fff" stroke="#000" stroke-width="1.3"/><rect x="285.60" y="698.20" width="9.2" height="9.2" fill="#fff" stroke="#000" stroke-width="1.3"/><rect x="329.30" y="729.40" width="9.2" height="9.2" fill="#fff" stroke="#000" stroke-width="1.3"/>
<polyline points="145.25,538.2 180.35,574.5 215.45,618" fill="none" stroke="#ff8010" stroke-width="2.3" stroke-dasharray="0 4.6" stroke-linecap="round"/><polyline points="246.50,592.3 290.20,673 333.90,672" fill="none" stroke="#ff8010" stroke-width="2.3" stroke-dasharray="0 4.6" stroke-linecap="round"/><line x1="145.25" y1="538.2" x2="145.25" y2="523.2" stroke="#ff8010" stroke-width="1.4"/><line x1="142.45" y1="523.2" x2="148.05" y2="523.2" stroke="#ff8010" stroke-width="1.4"/><line x1="180.35" y1="574.5" x2="180.35" y2="552.8" stroke="#ff8010" stroke-width="1.4"/><line x1="177.55" y1="552.8" x2="183.15" y2="552.8" stroke="#ff8010" stroke-width="1.4"/><line x1="215.45" y1="618" x2="215.45" y2="602.4" stroke="#ff8010" stroke-width="1.4"/><line x1="212.65" y1="602.4" x2="218.25" y2="602.4" stroke="#ff8010" stroke-width="1.4"/><line x1="246.50" y1="592.3" x2="246.50" y2="579.1" stroke="#ff8010" stroke-width="1.4"/><line x1="243.70" y1="579.1" x2="249.30" y2="579.1" stroke="#ff8010" stroke-width="1.4"/><line x1="290.20" y1="673" x2="290.20" y2="661.4" stroke="#ff8010" stroke-width="1.4"/><line x1="287.40" y1="661.4" x2="293.00" y2="661.4" stroke="#ff8010" stroke-width="1.4"/><line x1="333.90" y1="672" x2="333.90" y2="660.5" stroke="#ff8010" stroke-width="1.4"/><line x1="331.10" y1="660.5" x2="336.70" y2="660.5" stroke="#ff8010" stroke-width="1.4"/><rect x="140.65" y="533.60" width="9.2" height="9.2" fill="#f5c865" stroke="#ff8010" stroke-width="1.3"/><rect x="175.75" y="569.90" width="9.2" height="9.2" fill="#f5c865" stroke="#ff8010" stroke-width="1.3"/><rect x="210.85" y="613.40" width="9.2" height="9.2" fill="#f5c865" stroke="#ff8010" stroke-width="1.3"/><rect x="241.90" y="587.70" width="9.2" height="9.2" fill="#f5c865" stroke="#ff8010" stroke-width="1.3"/><rect x="285.60" y="668.40" width="9.2" height="9.2" fill="#f5c865" stroke="#ff8010" stroke-width="1.3"/><rect x="329.30" y="667.40" width="9.2" height="9.2" fill="#f5c865" stroke="#ff8010" stroke-width="1.3"/>
<polyline points="145.25,541.4 180.35,636.2 215.45,672" fill="none" stroke="#1e8040" stroke-width="1.4" stroke-dasharray="4.3 1.55"/><polyline points="246.50,632.8 290.20,677.8 333.90,718.8" fill="none" stroke="#1e8040" stroke-width="1.4" stroke-dasharray="4.3 1.55"/><line x1="145.25" y1="541.4" x2="145.25" y2="522.1" stroke="#1e8040" stroke-width="1.4"/><line x1="142.45" y1="522.1" x2="148.05" y2="522.1" stroke="#1e8040" stroke-width="1.4"/><line x1="180.35" y1="636.2" x2="180.35" y2="617.5" stroke="#1e8040" stroke-width="1.4"/><line x1="177.55" y1="617.5" x2="183.15" y2="617.5" stroke="#1e8040" stroke-width="1.4"/><line x1="215.45" y1="672" x2="215.45" y2="649.7" stroke="#1e8040" stroke-width="1.4"/><line x1="212.65" y1="649.7" x2="218.25" y2="649.7" stroke="#1e8040" stroke-width="1.4"/><line x1="246.50" y1="632.8" x2="246.50" y2="614.3" stroke="#1e8040" stroke-width="1.4"/><line x1="243.70" y1="614.3" x2="249.30" y2="614.3" stroke="#1e8040" stroke-width="1.4"/><line x1="290.20" y1="677.8" x2="290.20" y2="664.0" stroke="#1e8040" stroke-width="1.4"/><line x1="287.40" y1="664.0" x2="293.00" y2="664.0" stroke="#1e8040" stroke-width="1.4"/><line x1="333.90" y1="718.8" x2="333.90" y2="704" stroke="#1e8040" stroke-width="1.4"/><line x1="331.10" y1="704" x2="336.70" y2="704" stroke="#1e8040" stroke-width="1.4"/><circle cx="145.25" cy="541.4" r="4.6" fill="#1eff0e" stroke="#1e8040" stroke-width="1.3"/><circle cx="180.35" cy="636.2" r="4.6" fill="#1eff0e" stroke="#1e8040" stroke-width="1.3"/><circle cx="215.45" cy="672" r="4.6" fill="#1eff0e" stroke="#1e8040" stroke-width="1.3"/><circle cx="246.50" cy="632.8" r="4.6" fill="#1eff0e" stroke="#1e8040" stroke-width="1.3"/><circle cx="290.20" cy="677.8" r="4.6" fill="#1eff0e" stroke="#1e8040" stroke-width="1.3"/><circle cx="333.90" cy="718.8" r="4.6" fill="#1eff0e" stroke="#1e8040" stroke-width="1.3"/>
<polyline points="145.25,557.5 180.35,607.8 215.45,627.6" fill="none" stroke="#4b0f8c" stroke-width="1.25" stroke-dasharray="4 1.6"/><polyline points="246.50,620.3 290.20,669.2 333.90,662.6" fill="none" stroke="#4b0f8c" stroke-width="1.25" stroke-dasharray="4 1.6"/><line x1="145.25" y1="557.5" x2="145.25" y2="541.7" stroke="#4b0f8c" stroke-width="1.4"/><line x1="142.45" y1="541.7" x2="148.05" y2="541.7" stroke="#4b0f8c" stroke-width="1.4"/><line x1="180.35" y1="607.8" x2="180.35" y2="588.9" stroke="#4b0f8c" stroke-width="1.4"/><line x1="177.55" y1="588.9" x2="183.15" y2="588.9" stroke="#4b0f8c" stroke-width="1.4"/><line x1="215.45" y1="627.6" x2="215.45" y2="598.1" stroke="#4b0f8c" stroke-width="1.4"/><line x1="212.65" y1="598.1" x2="218.25" y2="598.1" stroke="#4b0f8c" stroke-width="1.4"/><line x1="246.50" y1="620.3" x2="246.50" y2="591.5" stroke="#4b0f8c" stroke-width="1.4"/><line x1="243.70" y1="591.5" x2="249.30" y2="591.5" stroke="#4b0f8c" stroke-width="1.4"/><line x1="290.20" y1="669.2" x2="290.20" y2="653.1" stroke="#4b0f8c" stroke-width="1.4"/><line x1="287.40" y1="653.1" x2="293.00" y2="653.1" stroke="#4b0f8c" stroke-width="1.4"/><line x1="333.90" y1="662.6" x2="333.90" y2="647" stroke="#4b0f8c" stroke-width="1.4"/><line x1="331.10" y1="647" x2="336.70" y2="647" stroke="#4b0f8c" stroke-width="1.4"/><circle cx="145.25" cy="557.5" r="4.6" fill="#cc66ff" stroke="#4b0f8c" stroke-width="1.3"/><circle cx="180.35" cy="607.8" r="4.6" fill="#cc66ff" stroke="#4b0f8c" stroke-width="1.3"/><circle cx="215.45" cy="627.6" r="4.6" fill="#cc66ff" stroke="#4b0f8c" stroke-width="1.3"/><circle cx="246.50" cy="620.3" r="4.6" fill="#cc66ff" stroke="#4b0f8c" stroke-width="1.3"/><circle cx="290.20" cy="669.2" r="4.6" fill="#cc66ff" stroke="#4b0f8c" stroke-width="1.3"/><circle cx="333.90" cy="662.6" r="4.6" fill="#cc66ff" stroke="#4b0f8c" stroke-width="1.3"/>
</svg>
</body></html>
